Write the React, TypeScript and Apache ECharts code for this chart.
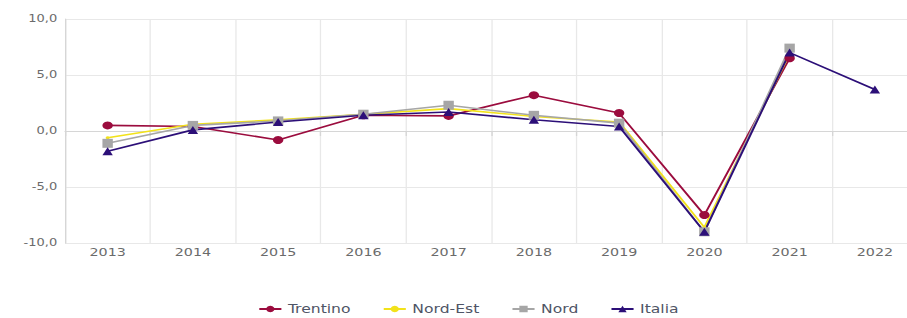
import React, { useEffect, useRef } from "react";
import * as echarts from "echarts";

const years = ["2013", "2014", "2015", "2016", "2017", "2018", "2019", "2020", "2021", "2022"];
const trentino = [0.5, 0.4, -0.8, 1.4, 1.35, 3.2, 1.6, -7.5, 6.5, null];
const nordEst = [-0.6, 0.6, 1.0, 1.5, 2.0, 1.3, 0.8, -8.6, 6.9, null];
const nord = [-1.1, 0.5, 0.9, 1.5, 2.3, 1.4, 0.7, -9.0, 7.4, null];
const italia = [-1.8, 0.1, 0.8, 1.4, 1.7, 1.0, 0.4, -9.0, 7.0, 3.7];
const yTicks = [-10, -5, 0, 5, 10];

const SX = 1.3;
const LOCAL_W = 720;

export default function App() {
  const ref = useRef<HTMLDivElement>(null);
  useEffect(() => {
    if (!ref.current) return;
    const chart = echarts.init(ref.current, undefined, { renderer: "svg" });
    const font = "'DejaVu Sans', sans-serif";
    const mk = (name: string, data: any[], color: string, symbol: string, size: any) => ({
      name,
      type: "line",
      data,
      symbol,
      symbolSize: size,
      showSymbol: true,
      lineStyle: { color, width: 1.6 },
      itemStyle: { color },
    });
    chart.setOption({
      animation: false,
      grid: { left: 50, right: LOCAL_W - 917.5 / SX, top: 19, bottom: 75 },
      xAxis: {
        type: "category",
        data: years,
        boundaryGap: true,
        axisLine: { lineStyle: { color: "#d6d6d6" } },
        axisTick: { show: true, length: 5, lineStyle: { color: "#d6d6d6" } },
        axisLabel: { color: "#6b6b6b", fontFamily: font, fontSize: 11, margin: 4 },
        splitLine: { show: true, lineStyle: { color: "#e8e8e8" } },
      },
      yAxis: {
        type: "value",
        min: yTicks[0],
        max: yTicks[yTicks.length - 1],
        interval: 5,
        axisLine: { show: true, lineStyle: { color: "#d6d6d6" } },
        axisTick: { show: false },
        axisLabel: {
          color: "#6b6b6b",
          fontFamily: font,
          fontSize: 10,
          margin: 6,
          formatter: (v: number) => v.toFixed(1).replace(".", ","),
        },
        splitLine: { show: true, lineStyle: { color: "#e8e8e8" } },
      },
      legend: {
        top: 303,
        left: 258 / SX,
        padding: 0,
        itemWidth: 17,
        itemHeight: 8,
        itemGap: 24.5,
        textStyle: { color: "#4f5566", fontFamily: font, fontSize: 12 },
        data: ["Trentino", "Nord-Est", "Nord", "Italia"],
      },
      series: [
        mk("Trentino", trentino, "#9b0c3e", "circle", 8),
        mk("Nord-Est", nordEst, "#f2e21a", "circle", 3),
        mk("Nord", nord, "#a6a6a6", "rect", [8, 9]),
        mk("Italia", italia, "#2c0f78", "triangle", 8),
      ],
    });
    return () => chart.dispose();
  }, []);
  return (
    <div style={{ position: "absolute", left: 0, top: 0, width: 907, height: 318, overflow: "hidden" }}>
      <div
        ref={ref}
        style={{
          width: LOCAL_W,
          height: 318,
          transform: `scaleX(${SX})`,
          transformOrigin: "0 0",
        }}
      />
    </div>
  );
}
